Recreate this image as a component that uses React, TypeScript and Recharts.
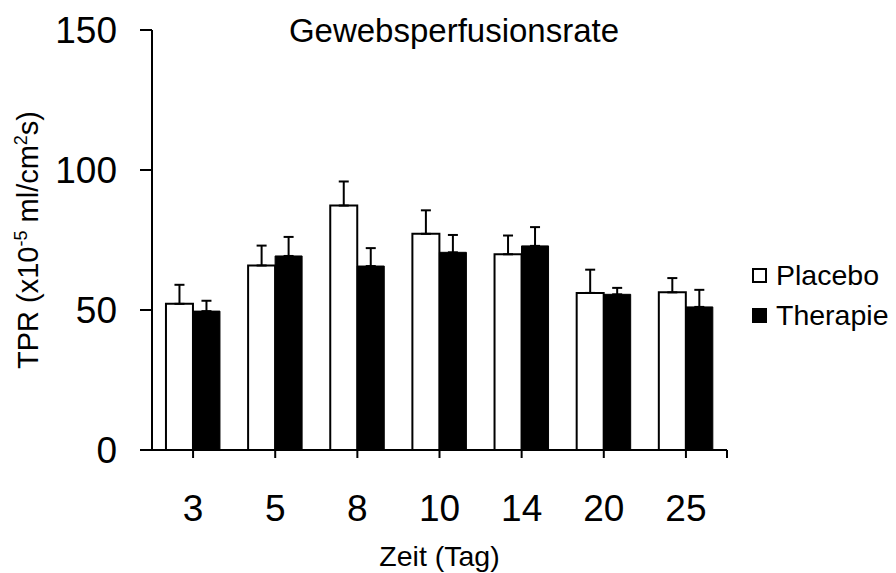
import React from 'react';
import { BarChart, Bar, XAxis, YAxis, ErrorBar, Label } from 'recharts';

const categories = ['3', '5', '8', '10', '14', '20', '25'];
const placeboValues = [52.2, 65.9, 87.3, 77.2, 69.9, 56.1, 56.3];
const placeboErrors = [6.8, 7.1, 8.6, 8.4, 6.7, 8.3, 5.1];
const therapieValues = [49.6, 69.3, 65.7, 70.6, 72.9, 55.6, 51.1];
const therapieErrors = [3.7, 6.8, 6.4, 6.2, 6.7, 2.3, 6.1];
const yTicks = [0, 50, 100, 150];

const data = categories.map((day, i) => ({
  day,
  placebo: placeboValues[i],
  placeboErr: [0, placeboErrors[i]],
  therapie: therapieValues[i],
  therapieErr: [0, therapieErrors[i]],
}));

const FONT = '"Liberation Sans", Arial, sans-serif';

const XTick = (props: any) => {
  const { x, y, payload, index, visibleTicksCount } = props;
  const axisY = y - 44;
  return (
    <g>
      <text x={x} y={y + 27} textAnchor="middle" fontSize={37} fontFamily={FONT} fill="#000">
        {payload.value}
      </text>
      {index === visibleTicksCount - 1 && payload.offset ? (
        <line x1={x + payload.offset} x2={x + payload.offset} y1={axisY} y2={axisY + 8} stroke="#000" strokeWidth={2} />
      ) : null}
    </g>
  );
};

const YLabel = (props: any) => {
  const { viewBox } = props;
  const cx = 38;
  const cy = viewBox.y + viewBox.height / 2;
  return (
    <text
      x={cx}
      y={cy}
      textAnchor="middle"
      fontSize={29}
      fontFamily={FONT}
      fill="#000"
      transform={`rotate(-90, ${cx}, ${cy})`}
    >
      <tspan>TPR (x10</tspan>
      <tspan fontSize={18} dy={-11}>-5</tspan>
      <tspan dy={11}> ml/cm</tspan>
      <tspan fontSize={18} dy={-11}>2</tspan>
      <tspan dy={11}>s)</tspan>
    </text>
  );
};

const XLabel = (props: any) => {
  const { viewBox } = props;
  const cx = viewBox.x + viewBox.width / 2;
  return (
    <text x={cx} y={566} textAnchor="middle" fontSize={28.5} fontFamily={FONT} fill="#000">
      Zeit (Tag)
    </text>
  );
};

export default function App() {
  return (
    <div style={{ position: 'absolute', left: 0, top: 0, width: 896, height: 573, background: '#fff', fontFamily: FONT }}>
      <BarChart
        width={896}
        height={573}
        data={data}
        margin={{ top: 30, right: 169, bottom: 0, left: 0 }}
        barCategoryGap="17%"
        barGap={0}
      >
        <XAxis
          dataKey="day"
          height={123}
          tickSize={8}
          tickMargin={36}
          axisLine={{ stroke: '#000', strokeWidth: 2 }}
          tickLine={{ stroke: '#000', strokeWidth: 2 }}
          tick={<XTick />}
          interval={0}
        >
          <Label content={<XLabel />} />
        </XAxis>
        <YAxis
          width={152}
          domain={[0, 150]}
          ticks={yTicks}
          interval={0}
          tickSize={12}
          tickMargin={23}
          axisLine={{ stroke: '#000', strokeWidth: 2 }}
          tickLine={{ stroke: '#000', strokeWidth: 2 }}
          tick={{ fontSize: 37, fill: '#000', fontFamily: FONT }}
        >
          <Label content={<YLabel />} />
        </YAxis>
        <Bar dataKey="placebo" fill="#fff" stroke="#000" strokeWidth={2} isAnimationActive={false}>
          <ErrorBar dataKey="placeboErr" width={5} strokeWidth={2} stroke="#000" direction="y" isAnimationActive={false} />
        </Bar>
        <Bar dataKey="therapie" fill="#000" stroke="#000" strokeWidth={1} isAnimationActive={false}>
          <ErrorBar dataKey="therapieErr" width={5} strokeWidth={2} stroke="#000" direction="y" isAnimationActive={false} />
        </Bar>
        <text x={454} y={42} textAnchor="middle" fontSize={33} fontFamily={FONT} fill="#000">
          Gewebsperfusionsrate
        </text>
        <g>
          <rect x={753} y={269} width={13} height={13} fill="#fff" stroke="#000" strokeWidth={2} />
          <text x={776} y={285} fontSize={28.5} fontFamily={FONT} fill="#000">Placebo</text>
          <rect x={752} y={308} width={15} height={15} fill="#000" />
          <text x={776} y={325} fontSize={28.5} fontFamily={FONT} fill="#000">Therapie</text>
        </g>
      </BarChart>
    </div>
  );
}
